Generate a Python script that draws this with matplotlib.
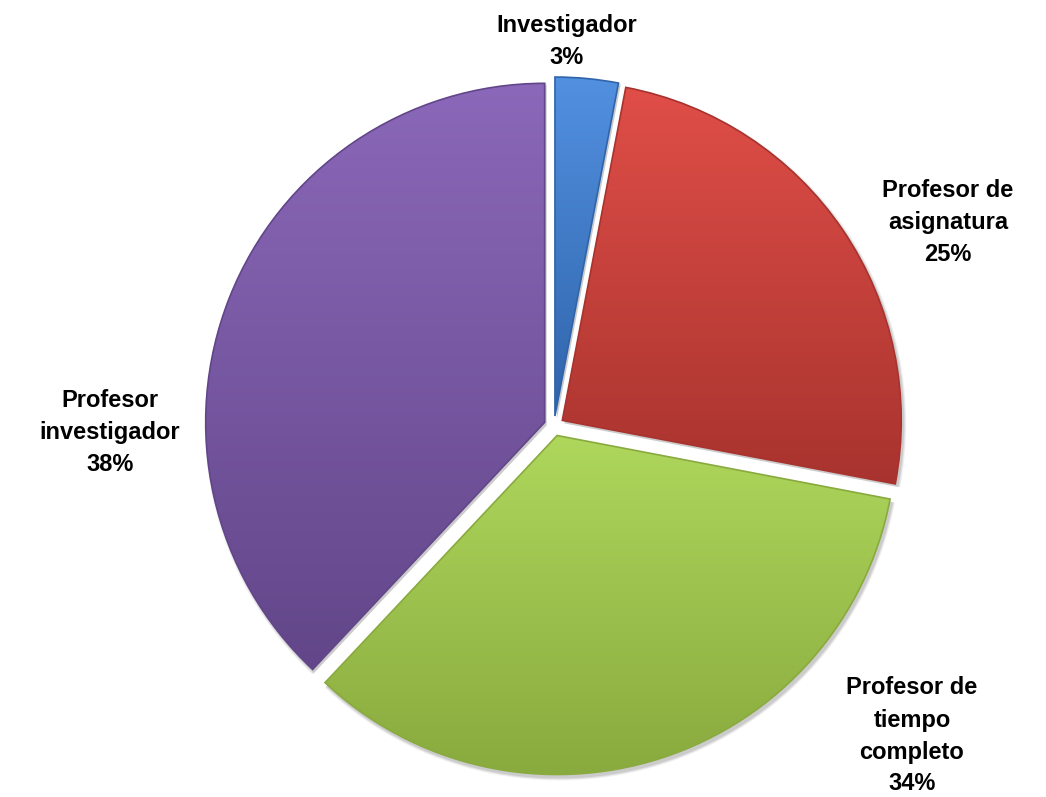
import matplotlib
matplotlib.use('Agg')
import matplotlib.pyplot as plt
import numpy as np
from matplotlib.colors import LinearSegmentedColormap
from matplotlib.patches import Wedge

categories = ['Investigador', 'Profesor de\nasignatura', 'Profesor de\ntiempo\ncompleto', 'Profesor\ninvestigador']
values = [3, 25, 34, 38]
colors_top = ['#5290E0', '#E04E48', '#AED75C', '#8B68B9']
colors_bot = ['#2F64AA', '#A8332E', '#89AA3E', '#624689']
label_pos = [(567, 756), (948, 575), (912, 61), (110, 365)]

fig = plt.figure(figsize=(10.46, 7.97), dpi=100)
ax = fig.add_axes([0, 0, 1, 1])
cx, cy, R = 554, 371, 339
wedges, _ = ax.pie(values, radius=R, center=(cx, cy), startangle=90,
                   counterclock=False, explode=[10] * len(values),
                   wedgeprops=dict(linewidth=0))
ax.set_xlim(0, 1046)
ax.set_ylim(0, 797)
ax.set_aspect('equal')
ax.axis('off')

grad = np.linspace(1, 0, 256).reshape(-1, 1)
for i, w in enumerate(wedges):
    # soft shadow
    for k, a in [(6, 0.05), (4, 0.07), (2, 0.09)]:
        sh = Wedge((w.center[0] + 2, w.center[1] - 3), w.r + k / 2, w.theta1, w.theta2,
                   facecolor='#000000', alpha=a, linewidth=0, zorder=0.5)
        ax.add_patch(sh)
    w.set_facecolor('none')
    w.set_zorder(2)
    path = w.get_patch_transform().transform_path(w.get_path())
    bb = path.get_extents()
    cmap = LinearSegmentedColormap.from_list('c%d' % i, [colors_bot[i], colors_top[i]])
    im = ax.imshow(grad[::-1], extent=(bb.x0, bb.x1, bb.y0, bb.y1), origin='lower',
                   cmap=cmap, aspect='auto', zorder=1, interpolation='bilinear')
    im.set_clip_path(w)
    edge = Wedge(w.center, w.r, w.theta1, w.theta2, facecolor='none',
                 edgecolor=colors_bot[i], linewidth=1.2, zorder=2)
    ax.add_patch(edge)

total = sum(values)
for cat, v, (x, y) in zip(categories, values, label_pos):
    ax.text(x, y, '%s\n%d%%' % (cat, round(100 * v / total)), ha='center', va='center',
            fontsize=17, fontweight='bold', family='Liberation Sans', color='black',
            linespacing=1.5)

fig.savefig('out.png', dpi=100)
